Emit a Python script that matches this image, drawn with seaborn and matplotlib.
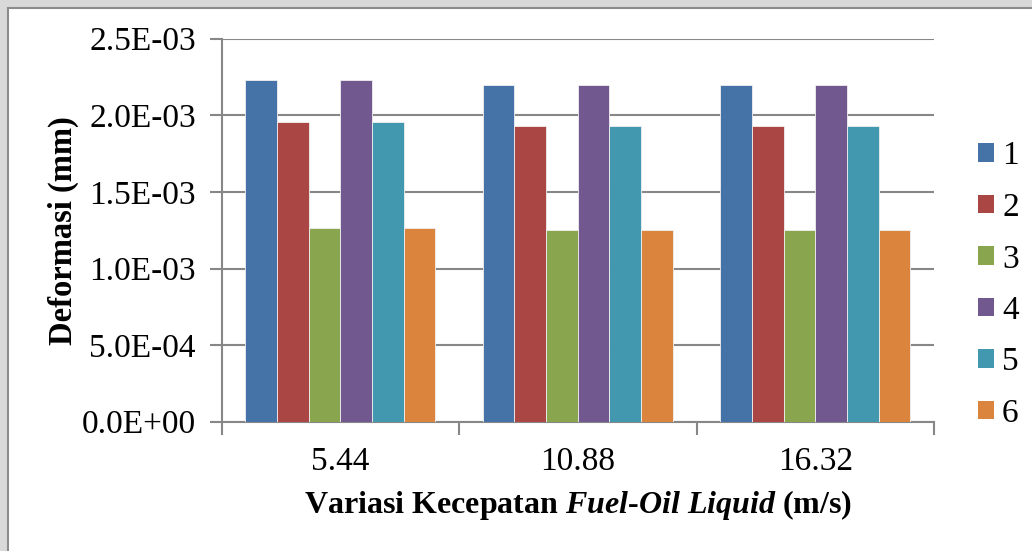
import numpy as np
import pandas as pd
import matplotlib
matplotlib.use("Agg")
import matplotlib.pyplot as plt
from matplotlib.patches import Rectangle
from matplotlib.ticker import FuncFormatter, FixedLocator
import seaborn as sns

# Deformation (mm) for each speed variation and each series
speeds = ["5.44", "10.88", "16.32"]
series = ["1", "2", "3", "4", "5", "6"]
s1 = [2.23e-3, 2.20e-3, 2.20e-3]
s2 = [1.955e-3, 1.93e-3, 1.93e-3]
s3 = [1.265e-3, 1.25e-3, 1.25e-3]
s4 = [2.23e-3, 2.20e-3, 2.20e-3]
s5 = [1.955e-3, 1.93e-3, 1.93e-3]
s6 = [1.265e-3, 1.25e-3, 1.25e-3]
colors = ["#4572A7", "#AA4643", "#89A54E", "#71588F", "#4198AF", "#DB843D"]

rows = []
for name, vals in zip(series, [s1, s2, s3, s4, s5, s6]):
    for sp, v in zip(speeds, vals):
        rows.append({"Kecepatan": sp, "Seri": name, "Deformasi": v})
df = pd.DataFrame(rows)

sns.set_theme(style="white")
plt.rcParams["font.family"] = ["Liberation Serif", "DejaVu Serif"]
plt.rcParams["text.color"] = "black"
plt.rcParams["axes.labelcolor"] = "black"
plt.rcParams["xtick.color"] = "black"
plt.rcParams["ytick.color"] = "black"
plt.rcParams["mathtext.fontset"] = "custom"
plt.rcParams["mathtext.it"] = "Liberation Serif:italic:bold"
plt.rcParams["mathtext.rm"] = "Liberation Serif:bold"

FS = 24
W, H = 1032, 551
fig = plt.figure(figsize=(W / 100, H / 100), dpi=100, facecolor="#d9d9d9")

# chart frame
frame = Rectangle((7.5 / W, -0.05), 1.2, 1 - 7.5 / H + 0.05, transform=fig.transFigure,
                  facecolor="white", edgecolor="#8c8c8c", linewidth=1.5, zorder=-5)
fig.patches.append(frame)

ax = fig.add_axes([221.5 / W, 1 - 421.7 / H, (934 - 221.5) / W, (421.7 - 38.7) / H])
ax.set_facecolor("none")

sns.barplot(data=df, x="Kecepatan", y="Deformasi", hue="Seri", order=speeds,
            hue_order=series, palette=colors, saturation=1, width=0.8, ax=ax,
            edgecolor="#f0f0f0", linewidth=0.6, legend=False, zorder=3)

ax.set_xlim(-0.5, 2.5)
ax.set_ylim(0, 2.5e-3)
ax.set_yticks(np.arange(0, 2.5e-3 + 1e-9, 5e-4))
ax.yaxis.set_major_formatter(FuncFormatter(lambda v, p: f"{v:.1E}"))
ax.yaxis.grid(True, color="#878787", linewidth=1.5, zorder=0)
ax.set_axisbelow(True)

# tick marks between categories, labels centred under each group
ax.xaxis.set_major_locator(FixedLocator([-0.5, 0.5, 1.5, 2.5]))
ax.xaxis.set_major_formatter(FuncFormatter(lambda v, p: ""))
ax.xaxis.set_minor_locator(FixedLocator([0, 1, 2]))
ax.set_xticklabels(speeds, minor=True)
ax.tick_params(axis="x", which="major", direction="out", length=9, width=1.5,
               color="#878787", bottom=True)
ax.tick_params(axis="x", which="minor", length=0, pad=18, labelsize=FS)
ax.tick_params(axis="y", direction="out", length=9, width=1.5, color="#878787",
               left=True, pad=9.5, labelsize=FS)

for side in ["top", "right"]:
    ax.spines[side].set_visible(False)
for side in ["left", "bottom"]:
    ax.spines[side].set_color("#878787")
    ax.spines[side].set_linewidth(1.5)

ax.set_ylabel("Deformasi (mm)", fontsize=23.5, fontweight="bold", labelpad=2)
ax.set_xlabel("Variasi Kecepatan $Fuel$-$Oil$ $Liquid$ (m/s)", fontsize=23,
              fontweight="bold", labelpad=8)

handles = [Rectangle((0, 0), 1, 1, facecolor=c, edgecolor="none") for c in colors]
fig.legend(handles, series, loc="upper left", bbox_to_anchor=(978 / W, 1 - 141 / H),
           frameon=False, fontsize=FS, handlelength=0.48, handleheight=0.48,
           handletextpad=0.24, labelspacing=0.63, borderpad=0, borderaxespad=0)

fig.savefig("out.png", dpi=100, facecolor=fig.get_facecolor())
